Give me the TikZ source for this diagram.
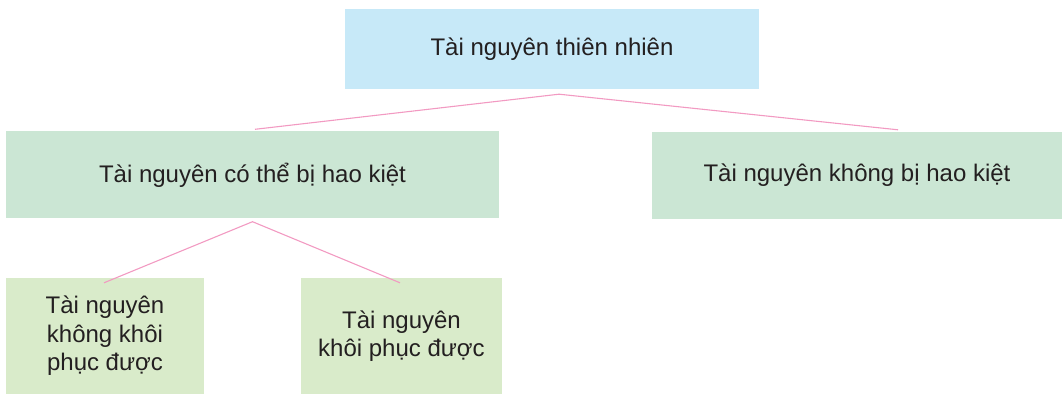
\documentclass[tikz,border=0pt]{standalone}
\usepackage{fontspec}
\setmainfont{Liberation Sans}
\definecolor{topblue}{HTML}{C7E9F8}
\definecolor{midgreen}{HTML}{CBE6D4}
\definecolor{lowgreen}{HTML}{D9EBCA}
\definecolor{linkpink}{HTML}{F29AC2}
\definecolor{txt}{HTML}{231F20}
\tikzset{
  box/.style={rectangle, inner sep=0pt, text=txt, font=\fontsize{24}{28.6}\selectfont, align=center},
  link/.style={draw=linkpink, line width=1.1pt}
}
\begin{document}
\begin{tikzpicture}[x=1pt,y=-1pt]
\useasboundingbox (0,0) rectangle (1062,395);
\node[box, fill=topblue, minimum width=414pt, minimum height=80pt] (top) at (552,49) {Tài nguyên thiên nhiên};
\node[box, fill=midgreen, minimum width=493pt, minimum height=87pt] (mida) at (252.5,175) {Tài nguyên có thể bị hao kiệt};
\node[box, fill=midgreen, minimum width=410pt, minimum height=87pt] (midb) at (857,175.5) {Tài nguyên không bị hao kiệt};
\node[box, fill=lowgreen, minimum width=198pt, minimum height=116pt] (lowa) at (105,336) {Tài nguyên\\không khôi\\phục được};
\node[box, fill=lowgreen, minimum width=201pt, minimum height=116pt] (lowb) at (401.5,336) {Tài nguyên\\khôi phục được};
\draw[link] ([xshift=2.5pt,yshift=2pt]mida.north) -- ([xshift=7pt,yshift=-5pt]top.south) -- ([xshift=41pt,yshift=2pt]midb.north);
\draw[link] ([xshift=-1pt,yshift=-5pt]lowa.north) -- ([yshift=-3pt]mida.south) -- ([xshift=-1.5pt,yshift=-5pt]lowb.north);
\end{tikzpicture}
\end{document}
